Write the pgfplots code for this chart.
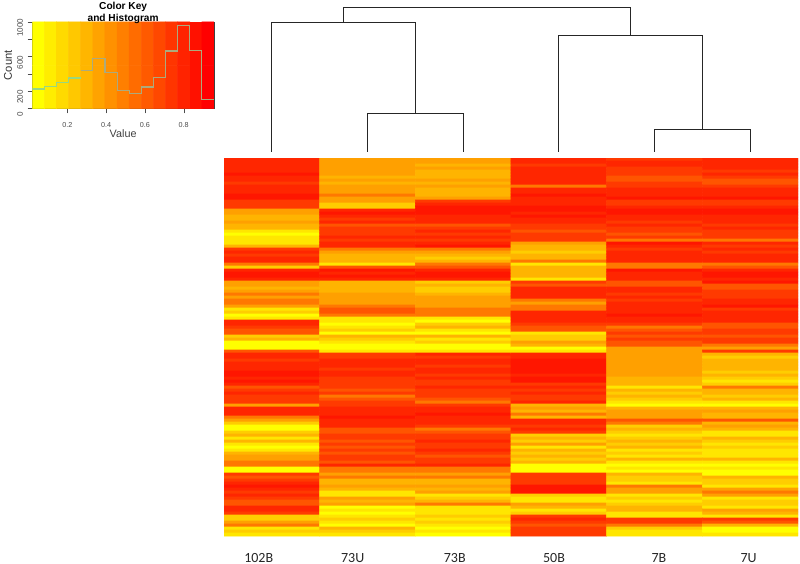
\documentclass[border=0pt]{standalone}
\usepackage{fontspec}
\setmainfont{Liberation Sans}
\newfontfamily\calib{Carlito}
\usepackage{pgfplots}
\pgfplotsset{compat=1.18}
\definecolor{tickgray}{RGB}{75,75,75}
\definecolor{histgreen}{RGB}{150,215,130}
\definecolor{histgray}{RGB}{172,170,125}
\begin{document}
\begin{tikzpicture}
\path[use as bounding box] (0,0) rectangle (600pt,423pt);
% ---- heat map
\begin{axis}[
  at={(168pt,21pt)},anchor=south west,scale only axis,width=430.5pt,height=283.5pt,
  axis line style={draw=none},
  y dir=reverse,xmin=-0.5,xmax=5.5,ymin=-0.5,ymax=125.5,
  xtick={-0.137,0.845,1.912,2.949,4.047,4.984},
  xticklabels={102B,73U,73B,50B,7B,7U},
  ytick=\empty,major tick length=0pt,
  xticklabel style={font=\calib\fontsize{10.5pt}{12pt}\selectfont,text=black!85,inner sep=0pt,yshift=-12.6pt},
  colormap={hm}{rgb255(0cm)=(255,255,0); rgb255(1cm)=(255,230,0); rgb255(2cm)=(255,205,0); rgb255(3cm)=(255,180,0); rgb255(4cm)=(255,160,0); rgb255(5cm)=(255,120,0); rgb255(6cm)=(255,85,0); rgb255(7cm)=(255,58,0); rgb255(8cm)=(255,38,0); rgb255(9cm)=(255,22,0)},
  point meta min=0,point meta max=9]
\addplot[matrix plot*,mesh/rows=126,mesh/cols=6,mesh/ordering=y varies,point meta=explicit]
 table[row sep=\\,header=false,x expr={floor(\coordindex/126)},y expr={mod(\coordindex,126)},meta index=0] {%
8\\8\\8\\8\\8\\9\\8\\8\\7\\8\\8\\8\\9\\9\\7\\7\\7\\4\\4\\3\\3\\4\\3\\3\\1\\0\\1\\1\\1\\3\\%
7\\8\\7\\8\\8\\5\\2\\8\\9\\9\\8\\4\\4\\3\\4\\5\\4\\5\\5\\4\\1\\2\\0\\1\\8\\8\\7\\6\\6\\2\\%
3\\0\\0\\0\\6\\8\\8\\7\\8\\8\\8\\9\\9\\8\\9\\8\\6\\7\\8\\7\\7\\7\\4\\8\\8\\8\\5\\4\\2\\0\\%
0\\2\\3\\1\\3\\1\\0\\1\\3\\4\\4\\5\\5\\0\\0\\7\\6\\7\\8\\9\\8\\7\\8\\7\\6\\6\\8\\8\\7\\2\\2\\4\\5\\1\\2\\1\\%
4\\4\\4\\4\\4\\4\\3\\4\\3\\4\\4\\4\\5\\4\\4\\2\\2\\8\\9\\8\\7\\8\\6\\7\\7\\7\\8\\7\\8\\8\\%
5\\4\\3\\3\\3\\1\\6\\9\\8\\9\\8\\3\\3\\3\\3\\4\\4\\4\\4\\5\\6\\6\\5\\1\\1\\0\\1\\2\\0\\3\\%
2\\1\\0\\0\\1\\7\\7\\8\\8\\8\\7\\8\\8\\7\\7\\7\\7\\6\\7\\5\\6\\7\\7\\8\\8\\8\\9\\8\\8\\8\\%
6\\6\\7\\7\\6\\7\\6\\7\\6\\7\\7\\6\\8\\5\\5\\4\\5\\3\\3\\4\\3\\1\\1\\4\\3\\4\\0\\1\\0\\1\\2\\1\\0\\3\\2\\1\\%
4\\4\\3\\4\\3\\3\\3\\4\\3\\4\\3\\3\\3\\4\\7\\8\\9\\9\\9\\8\\8\\8\\6\\7\\8\\7\\8\\7\\8\\9\\%
5\\4\\3\\2\\3\\5\\6\\8\\9\\9\\8\\2\\3\\2\\2\\3\\4\\4\\4\\4\\5\\5\\5\\1\\0\\2\\3\\1\\0\\3\\%
1\\2\\0\\0\\1\\8\\7\\8\\8\\7\\8\\8\\7\\8\\7\\7\\8\\7\\7\\7\\6\\5\\7\\8\\8\\9\\8\\8\\8\\7\\%
5\\6\\7\\7\\8\\7\\7\\8\\7\\6\\7\\7\\8\\5\\5\\4\\5\\3\\3\\4\\3\\4\\1\\2\\3\\5\\1\\1\\1\\2\\1\\2\\1\\0\\1\\0\\%
8\\8\\7\\8\\8\\8\\8\\8\\8\\5\\8\\8\\9\\8\\8\\8\\9\\9\\8\\9\\8\\8\\7\\7\\6\\7\\7\\7\\4\\3\\%
3\\2\\3\\3\\5\\1\\3\\3\\3\\3\\1\\7\\6\\8\\8\\8\\8\\5\\4\\5\\5\\8\\8\\8\\8\\7\\6\\6\\1\\2\\%
2\\4\\3\\0\\1\\8\\8\\9\\9\\9\\9\\9\\8\\9\\9\\7\\8\\7\\8\\7\\7\\8\\3\\4\\3\\5\\3\\8\\8\\7\\%
8\\7\\2\\3\\2\\4\\1\\3\\2\\3\\2\\3\\0\\0\\0\\7\\7\\7\\7\\9\\9\\9\\2\\1\\1\\4\\3\\1\\2\\7\\8\\7\\6\\7\\7\\7\\%
7\\8\\8\\7\\7\\7\\6\\6\\7\\7\\8\\8\\8\\9\\7\\7\\8\\9\\9\\8\\8\\7\\8\\7\\7\\6\\7\\5\\9\\8\\%
7\\8\\8\\8\\8\\5\\5\\9\\8\\8\\8\\6\\6\\8\\8\\7\\8\\7\\8\\8\\8\\8\\9\\8\\8\\7\\5\\6\\7\\6\\%
7\\6\\6\\4\\4\\4\\4\\4\\4\\4\\4\\4\\4\\3\\3\\3\\1\\3\\2\\3\\2\\1\\0\\3\\4\\4\\4\\6\\5\\2\\%
3\\2\\1\\2\\3\\2\\3\\1\\2\\1\\3\\1\\0\\1\\0\\3\\2\\2\\1\\5\\4\\4\\1\\2\\1\\2\\3\\3\\1\\1\\7\\7\\5\\2\\1\\1\\%
8\\8\\8\\8\\7\\8\\7\\6\\6\\7\\8\\8\\8\\9\\7\\7\\8\\9\\9\\8\\8\\8\\7\\8\\7\\7\\7\\5\\8\\7\\%
8\\7\\8\\8\\8\\5\\6\\8\\9\\9\\8\\9\\6\\6\\7\\7\\7\\8\\8\\9\\7\\8\\8\\8\\8\\6\\6\\7\\7\\6\\%
7\\7\\5\\4\\7\\3\\2\\3\\3\\3\\3\\2\\3\\2\\1\\2\\5\\3\\3\\2\\3\\1\\0\\3\\4\\3\\3\\6\\3\\4\\%
3\\1\\1\\3\\2\\1\\2\\1\\1\\1\\3\\1\\0\\1\\0\\0\\3\\2\\2\\1\\4\\5\\4\\1\\2\\2\\1\\4\\3\\1\\7\\6\\3\\0\\0\\1\\%
};
\end{axis}
% ---- colour key and histogram
\begin{axis}[
  at={(24.2pt,341.5pt)},anchor=south west,scale only axis,width=136.3pt,height=65pt,
  xmin=0.019,xmax=0.956,ymin=0,ymax=1000,
  axis line style={draw=black!75,line width=0.45pt},
  tick align=outside,major tick length=3.5pt,
  tick style={draw=tickgray,line width=0.35pt},
  xtick pos=bottom,ytick pos=left,
  xtick={0.2,0.4,0.6,0.8},xticklabels={0.2,0.4,0.6,0.8},
  ytick={0,200,400,600,800,1000},yticklabels={0,200,,600,,1000},
  xticklabel style={font=\fontsize{5.4pt}{6pt}\selectfont,text=tickgray,yshift=-3.2pt},
  yticklabel style={font=\fontsize{6.1pt}{6pt}\selectfont,text=tickgray,rotate=90,anchor=south,xshift=-4.2pt},
  xlabel={Value},ylabel={Count},
  xlabel style={font=\fontsize{8.1pt}{9pt}\selectfont,text=black!75,at={(axis description cs:0.5,-0.245)},anchor=north,inner sep=0pt},
  ylabel style={font=\fontsize{8.4pt}{9pt}\selectfont,text=black!80,at={(axis description cs:-0.11,0.5)},anchor=south,inner sep=0pt},
  title={Color Key\\and Histogram},
  title style={font=\bfseries\fontsize{7.6pt}{9.3pt}\selectfont,align=center,at={(axis description cs:0.5,0.885)},anchor=south,inner sep=0pt},
  colormap={key}{rgb255(0cm)=(255,255,0); rgb255(1cm)=(255,0,0)},
  point meta min=0,point meta max=14]
\addplot[matrix plot*,mesh/rows=2,mesh/cols=15,point meta=explicit] table[meta=m] {
x y m
0.0502 250 0
0.1127 250 1
0.1752 250 2
0.2377 250 3
0.3001 250 4
0.3626 250 5
0.4251 250 6
0.4875 250 7
0.5500 250 8
0.6125 250 9
0.6750 250 10
0.7374 250 11
0.7999 250 12
0.8624 250 13
0.9248 250 14
0.0502 750 0
0.1127 750 1
0.1752 750 2
0.2377 750 3
0.3001 750 4
0.3626 750 5
0.4251 750 6
0.4875 750 7
0.5500 750 8
0.6125 750 9
0.6750 750 10
0.7374 750 11
0.7999 750 12
0.8624 750 13
0.9248 750 14
};
\addplot[const plot,histgreen,line width=0.8pt] coordinates {
(0.019,227)(0.0815,258)(0.144,300)(0.2064,354)(0.2689,354)};
\addplot[const plot,histgray,line width=0.8pt] coordinates {
(0.2689,442)(0.3314,581)(0.3939,419)(0.4563,208)(0.5188,177)(0.5813,250)(0.6437,362)(0.7062,665)(0.7687,962)(0.8311,669)(0.8936,108)(0.956,108)};
\end{axis}
% ---- dendrogram
\begin{axis}[
  at={(0pt,0pt)},anchor=south west,scale only axis,width=600pt,height=423pt,
  axis lines=none,xmin=0,xmax=800,ymin=0,ymax=564,y dir=reverse,clip=false]
\addplot[black!85,line width=0.55pt] coordinates {(367.5,152)(367.5,113)(463,113)(463,152)};
\addplot[black!85,line width=0.55pt] coordinates {(271.8,152)(271.8,22)(415,22)(415,113)};
\addplot[black!85,line width=0.55pt] coordinates {(654.5,152)(654.5,129)(750,129)(750,152)};
\addplot[black!85,line width=0.55pt] coordinates {(558.8,152)(558.8,35)(702,35)(702,129)};
\addplot[black!85,line width=0.55pt] coordinates {(343.5,22)(343.5,7)(630.5,7)(630.5,35)};
\end{axis}
\end{tikzpicture}
\end{document}
